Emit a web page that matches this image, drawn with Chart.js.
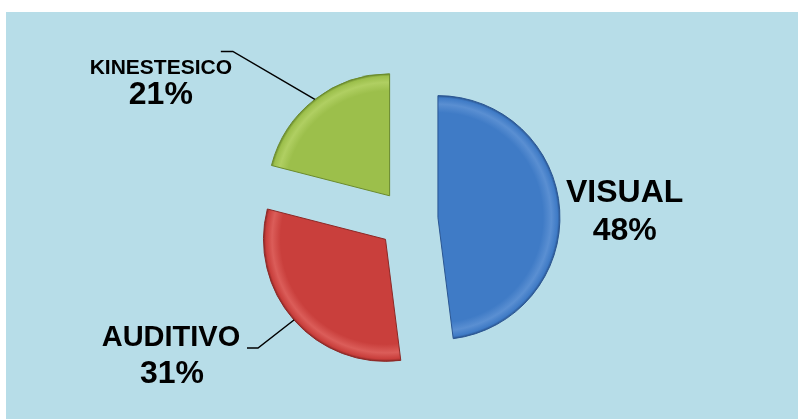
<!DOCTYPE html>
<html>
<head>
<meta charset="utf-8">
<script src="https://cdn.jsdelivr.net/npm/chart.js@4.4.1/dist/chart.umd.min.js"></script>
<style>
  html, body { margin: 0; padding: 0; background: #ffffff; }
  #panel { position: absolute; left: 6px; top: 12px; width: 792px; height: 407px; background: #b7dde8; }
  #pie { display: block; }
</style>
</head>
<body>
<div id="panel"><canvas id="pie" width="792" height="407"></canvas></div>
<script>
const categories = ['VISUAL', 'AUDITIVO', 'KINESTESICO'];
const values = [48, 31, 21];

const baseColors = ['#3f7bc6', '#c93f3c', '#9cbf4b'];
const lightColors = ['#5a8fd2', '#db5d59', '#b0cf62'];
const darkColors = ['#2a5591', '#8c2826', '#6a8a2c'];

const pieRadius = 122;
const explode = 30; // px the slices move out (chart.js v4 draws offset / 4)

// label placement relative to the outer middle point of each slice
const nameFont = [32, 29, 21];
const pctFont = 32;
const nameOffset = [[65, -17], [-123, 18], [-154, -31]];
const pctOffset = [[65, 21], [-122, 54], [-154, -4]];
const leaderLines = [null, [[-36, 28], [-47, 28]], [[-82, -48], [-94, -48]]];

function sliceFill(context) {
    const i = context.dataIndex;
    const chart = context.chart;
    const area = chart.chartArea;
    if (!area) return baseColors[i];
    const cx = (area.left + area.right) / 2;
    const cy = (area.top + area.bottom) / 2;
    const g = chart.ctx.createRadialGradient(cx, cy, 0, cx, cy, pieRadius);
    g.addColorStop(0, baseColors[i]);
    g.addColorStop(0.86, baseColors[i]);
    g.addColorStop(0.93, lightColors[i]);
    g.addColorStop(0.98, baseColors[i]);
    g.addColorStop(1, darkColors[i]);
    return g;
}

// chart.js grows big slices by offset * (1 - sin(circumference)) and trims
// their angles; undo both so every slice keeps the same radius and angle
const sameRadius = {
    id: 'sameRadius',
    beforeDatasetsDraw(chart) {
        const meta = chart.getDatasetMeta(0);
        const base = meta.controller.outerRadius;
        meta.data.forEach(arc => {
            const fix = 1 - Math.sin(Math.min(Math.PI, arc.circumference));
            const radiusOffset = (arc.options.offset / 4) * fix;
            const trim = radiusOffset / (2 * Math.PI * base);
            arc.$saved = [arc.outerRadius, arc.startAngle, arc.endAngle];
            arc.outerRadius = base - radiusOffset;
            arc.startAngle -= trim;
            arc.endAngle += trim;
        });
    },
    afterDatasetsDraw(chart) {
        chart.getDatasetMeta(0).data.forEach(arc => {
            if (arc.$saved) {
                [arc.outerRadius, arc.startAngle, arc.endAngle] = arc.$saved;
                delete arc.$saved;
            }
        });
    }
};

const labelPlugin = {
    id: 'sliceLabels',
    afterDatasetsDraw(chart) {
        const ctx = chart.ctx;
        const meta = chart.getDatasetMeta(0);
        const total = values.reduce((a, b) => a + b, 0);
        ctx.save();
        ctx.fillStyle = '#000000';
        ctx.strokeStyle = '#000000';
        ctx.lineWidth = 1.5;
        ctx.textAlign = 'center';
        ctx.textBaseline = 'middle';
        meta.data.forEach((arc, i) => {
            const mid = (arc.startAngle + arc.endAngle) / 2;
            const off = arc.options.offset / 4;
            const px = arc.x + Math.cos(mid) * (off + pieRadius);
            const py = arc.y + Math.sin(mid) * (off + pieRadius);
            if (leaderLines[i]) {
                ctx.beginPath();
                ctx.moveTo(px, py);
                leaderLines[i].forEach(p => ctx.lineTo(px + p[0], py + p[1]));
                ctx.stroke();
            }
            ctx.font = 'bold ' + nameFont[i] + 'px "Liberation Sans", Arial, sans-serif';
            ctx.fillText(categories[i], px + nameOffset[i][0], py + nameOffset[i][1]);
            ctx.font = 'bold ' + pctFont + 'px "Liberation Sans", Arial, sans-serif';
            const pct = Math.round(values[i] / total * 100) + '%';
            ctx.fillText(pct, px + pctOffset[i][0], py + pctOffset[i][1]);
        });
        ctx.restore();
    }
};

new Chart(document.getElementById('pie').getContext('2d'), {
    type: 'pie',
    data: {
        labels: categories,
        datasets: [{
            data: values,
            backgroundColor: sliceFill,
            borderColor: darkColors,
            borderWidth: 1,
            offset: explode * 4
        }]
    },
    options: {
        responsive: false,
        animation: false,
        radius: pieRadius,
        layout: { padding: { left: 12, top: 8 } },
        plugins: {
            legend: { display: false },
            tooltip: { enabled: false }
        }
    },
    plugins: [sameRadius, labelPlugin]
});
</script>
</body>
</html>
